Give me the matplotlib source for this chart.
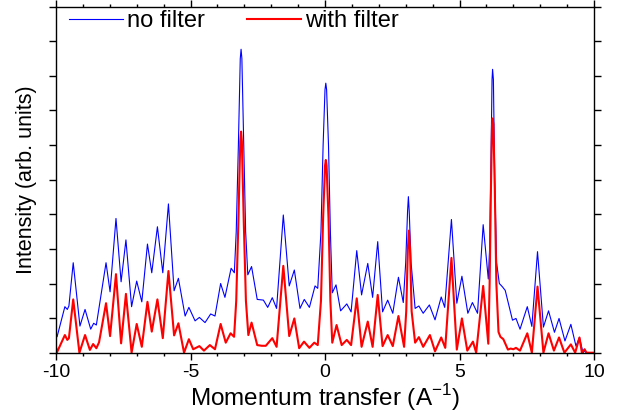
import matplotlib
matplotlib.use('Agg')
from matplotlib import pyplot as plt
from matplotlib.ticker import MultipleLocator, NullFormatter

plt.rcParams['font.family'] = 'Liberation Sans'
plt.rcParams['mathtext.fontset'] = 'custom'
plt.rcParams['mathtext.rm'] = 'Liberation Sans'
plt.rcParams['axes.unicode_minus'] = False

# no filter (blue): local maxima / minima
nf_x = [-10.0, -9.96, -9.67, -9.58, -9.52, -9.36, -9.11, -8.92, -8.71, -8.6, -8.5,
        -8.14, -7.99, -7.77, -7.58, -7.40, -7.19, -7.0, -6.81, -6.6, -6.44, -6.23,
        -6.03, -5.82, -5.61, -5.45, -5.2, -5.06, -4.83, -4.67, -4.46, -4.25, -4.09,
        -3.88, -3.72, -3.49, -3.37, -3.3, -3.22, -3.15, -3.12, -3.09, -3.02, -2.95,
        -2.87, -2.73, -2.52, -2.29, -2.13, -1.96, -1.80, -1.55, -1.33, -1.14, -0.93,
        -0.77, -0.58, -0.37, -0.27, -0.15, -0.07, 0.0, 0.03, 0.06, 0.13, 0.2, 0.27,
        0.41, 0.58, 0.81, 0.97, 1.18, 1.36, 1.59, 1.77, 1.96, 2.14, 2.33, 2.52, 2.73,
        2.91, 3.0, 3.07, 3.1, 3.13, 3.2, 3.35, 3.49, 3.65, 3.88, 4.09, 4.32, 4.45,
        4.7, 4.9, 5.09, 5.31, 5.48, 5.67, 5.88, 6.07, 6.12, 6.17, 6.21, 6.23, 6.26,
        6.31, 6.38, 6.48, 6.59, 6.7, 6.97, 7.1, 7.25, 7.52, 7.69, 7.9, 8.12, 8.31,
        8.53, 8.7, 8.92, 9.14, 9.33, 9.46, 9.59, 9.65, 9.72, 10.0]
nf_y = [0.58, 0.46, 1.33, 1.25, 1.35, 2.6, 0.77, 1.25, 0.68, 0.85, 0.8,
        2.6, 1.76, 3.88, 2.05, 3.26, 1.33, 2.07, 1.47, 3.14, 2.31, 3.64,
        2.31, 4.3, 1.79, 2.15, 1.06, 1.31, 0.92, 1.02, 0.87, 1.12, 1.06,
        2.0, 1.6, 2.44, 2.31, 3.5, 6.0, 8.5, 8.77, 8.5, 6.0, 3.5,
        2.25, 2.49, 1.54, 1.52, 1.31, 1.59, 1.28, 3.98, 1.93, 2.39, 1.28,
        1.54, 1.31, 1.93, 1.86, 3.5, 6.0, 7.6, 7.79, 7.6, 6.0, 3.5, 1.73,
        1.96, 1.21, 1.41, 1.18, 2.95, 1.67, 2.58, 1.6, 3.21, 1.18, 1.52, 1.14, 2.18,
        1.45, 2.6, 4.1, 4.51, 4.1, 2.6, 1.28, 1.35, 1.14, 1.38, 0.95, 1.61, 1.31,
        3.85, 1.43, 2.21, 1.14, 1.45, 1.14, 3.7, 2.13, 3.0, 5.5, 7.9, 8.19, 7.9,
        5.0, 2.6, 2.0, 1.91, 1.8, 0.94, 0.99, 0.68, 1.33, 0.76, 2.92, 0.74, 1.21,
        0.59, 0.99, 0.34, 0.82, 0.19, 0.44, 0.0, 0.05, 0.0, 0.0]

# with filter (red)
wf_x = [-10.0, -9.97, -9.67, -9.58, -9.52, -9.36, -9.13, -8.92, -8.74, -8.62, -8.5,
        -8.4, -8.14, -7.99, -7.77, -7.58, -7.40, -7.19, -7.0, -6.81, -6.6, -6.44,
        -6.23, -6.03, -5.82, -5.61, -5.45, -5.24, -5.06, -4.9, -4.67, -4.5, -4.28,
        -4.09, -3.88, -3.69, -3.51, -3.38, -3.3, -3.22, -3.15, -3.12, -3.09, -3.02,
        -2.94, -2.85, -2.73, -2.52, -2.35, -2.2, -1.96, -1.8, -1.55, -1.33, -1.14,
        -0.96, -0.78, -0.58, -0.4, -0.27, -0.15, -0.07, 0.0, 0.03, 0.06, 0.13, 0.2,
        0.27, 0.43, 0.62, 0.81, 0.97, 1.18, 1.36, 1.59, 1.77, 1.96, 2.14, 2.33, 2.52,
        2.73, 2.94, 3.02, 3.08, 3.12, 3.16, 3.22, 3.35, 3.49, 3.65, 3.9, 4.09, 4.32,
        4.47, 4.7, 4.9, 5.09, 5.29, 5.5, 5.62, 5.88, 6.07, 6.12, 6.17, 6.21, 6.23,
        6.26, 6.31, 6.37, 6.45, 6.52, 6.63, 6.8, 6.9, 7.0, 7.1, 7.25, 7.52, 7.69,
        7.9, 8.12, 8.31, 8.51, 8.7, 8.9, 9.14, 9.3, 9.46, 9.55, 9.65, 9.72, 10.0]
wf_y = [0.17, 0.0, 0.51, 0.37, 0.42, 1.54, 0.0, 0.51, 0.08, 0.25, 0.13,
        0.3, 1.43, 0.48, 2.27, 0.27, 1.70, 0.0, 0.83, 0.17, 1.47, 0.61,
        1.54, 0.42, 2.36, 0.5, 0.85, 0.0, 0.39, 0.1, 0.19, 0.06, 0.22,
        0.1, 0.83, 0.29, 0.56, 0.46, 1.5, 3.8, 6.1, 6.39, 6.1, 3.8,
        1.5, 0.51, 0.87, 0.22, 0.2, 0.2, 0.42, 0.17, 2.51, 0.48, 0.99,
        0.13, 0.32, 0.14, 0.29, 0.22, 1.5, 3.9, 5.4, 5.57, 5.4, 3.9, 1.5,
        0.29, 0.8, 0.22, 0.37, 0.22, 1.57, 0.17, 0.9, 0.17, 1.67, 0.19, 0.51, 0.19,
        1.06, 0.17, 1.2, 3.0, 3.53, 3.0, 1.2, 0.29, 0.45, 0.17, 0.51, 0.04, 0.44,
        0.14, 2.74, 0.09, 0.99, 0.06, 0.32, 0.0, 1.93, 0.26, 2.0, 4.8, 6.6, 6.77,
        6.6, 4.8, 2.0, 0.6, 0.46, 0.39, 0.09, 0.12, 0.1, 0.14, 0.06, 0.56, 0.0,
        1.91, 0.0, 0.56, 0.06, 0.44, 0.0, 0.24, 0.0, 0.44, 0.0, 0.1, 0.0, 0.0]

fig = plt.figure(figsize=(6.2, 4.19), dpi=100)
ax = fig.add_axes([56 / 620, 66.3 / 419, 538 / 620, 346 / 419])

ax.plot(nf_x, nf_y, color='blue', lw=0.8, label='no filter')
ax.plot(wf_x, wf_y, color='red', lw=1.5, label='with filter')

ax.set_xlim(-10, 10)
ax.set_ylim(0, 10)
ax.xaxis.set_major_locator(MultipleLocator(5))
ax.xaxis.set_minor_locator(MultipleLocator(1))
ax.yaxis.set_major_locator(MultipleLocator(1))
ax.yaxis.set_major_formatter(NullFormatter())
ax.tick_params(which='both', direction='out', top=True, right=True, width=1)
ax.tick_params(which='major', length=5, labelsize=14, pad=3)
ax.tick_params(which='minor', length=2.5)
for s in ax.spines.values():
    s.set_linewidth(1.0)

ax.set_xlabel(r'Momentum transfer (A$^{\mathrm{-1}}$)', fontsize=17.5, labelpad=1)
ax.set_ylabel('Intensity (arb. units)', fontsize=15.5, labelpad=6)

ax.legend(loc='upper left', bbox_to_anchor=(0.024, 0.99), ncol=2, frameon=False,
          fontsize=17, borderpad=0, borderaxespad=0, handlelength=2.3,
          handletextpad=0.15, columnspacing=1.8)

fig.savefig('out.png', dpi=100)
